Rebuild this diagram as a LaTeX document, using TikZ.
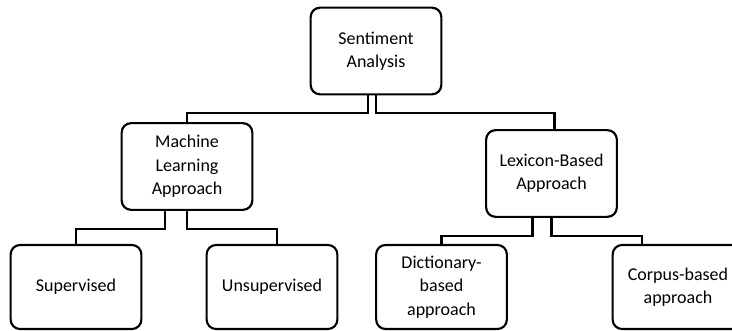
\documentclass[tikz,border=0pt]{standalone}
\usepackage{fontspec}
\setmainfont{Carlito}
\usetikzlibrary{calc}

\begin{document}
\begin{tikzpicture}[
    x=0.75pt, y=-0.75pt,
    box/.style={draw, line width=1.6pt, rounded corners=7pt, minimum width=98pt, minimum height=65pt, align=center, inner sep=2pt, font=\fontsize{13.5}{17.5}\selectfont},
    leaf/.style={box, minimum height=63pt},
    link/.style={line width=1.6pt}
]
    \clip (0,0) rectangle (732,331);

    \node[box] (sa) at (376,51) {Sentiment\\Analysis};
    \node[box] (ml) at (187,166.5) {Machine\\Learning\\Approach};
    \node[box] (lex) at (551.5,173.5) {Lexicon-Based\\Approach};

    \node[leaf] (sup) at (76,287) {Supervised};
    \node[leaf] (unsup) at (272,287) {Unsupervised};
    \node[leaf] (dict) at (441.5,287) {Dictionary-\\based\\approach};
    \node[leaf] (corp) at (678,287) {Corpus-based\\approach};

    \draw[link] (sa.south) ++(-8,0) -- ++(0,18) -| (ml.north);
    \draw[link] (sa.south) -- ++(0,18) -| ($(lex.north)+(3,0)$);

    \draw[link] (ml.south) ++(-22,0) -- ++(0,18) -| (sup.north);
    \draw[link] (ml.south) -- ++(0,18) -| ($(unsup.north)+(5,0)$);

    \draw[link] (lex.south) ++(-19,0) -- ++(0,18) -| (dict.north);
    \draw[link] (lex.south) -- ++(0,18) -| ($(corp.north)+(-36,0)$);
\end{tikzpicture}
\end{document}
